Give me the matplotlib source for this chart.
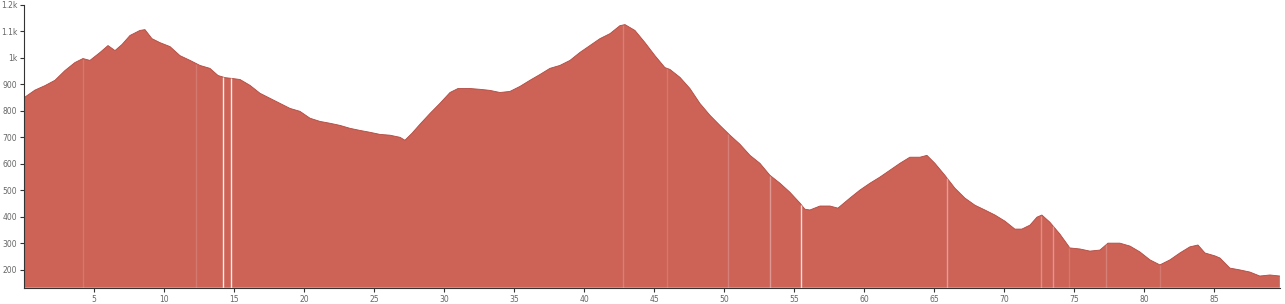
import matplotlib
matplotlib.use("Agg")
import matplotlib.pyplot as plt
import numpy as np

# distance (km) / elevation (m)
km = [0.0, 0.76, 1.48, 2.19, 2.91, 3.62, 4.19, 4.69, 5.41, 5.98, 6.48, 6.98, 7.55,
      8.26, 8.62, 9.12, 9.69, 10.41, 11.12, 11.84, 12.55, 13.26, 13.84, 14.34, 14.84,
      15.41, 16.12, 16.84, 17.55, 18.26, 18.98, 19.69, 20.41, 21.12, 21.84, 22.55,
      23.26, 23.98, 24.69, 25.41, 26.12, 26.84, 27.19, 27.69, 28.26, 28.98, 29.69,
      30.41, 30.98, 31.84, 32.55, 33.26, 33.98, 34.69, 35.41, 36.12, 36.84, 37.55,
      38.26, 38.98, 39.69, 40.41, 41.12, 41.84, 42.55, 42.91, 43.62, 44.34, 45.05,
      45.76, 46.12, 46.84, 47.55, 48.26, 48.98, 49.69, 50.41, 51.12, 51.84, 52.55,
      53.26, 53.98, 54.69, 55.41, 55.76, 56.12, 56.84, 57.55, 58.12, 58.98, 59.69,
      60.41, 61.12, 61.84, 62.55, 63.26, 63.98, 64.48, 65.05, 65.76, 66.48, 67.19,
      67.91, 68.62, 69.34, 70.05, 70.76, 71.26, 71.84, 72.34, 72.69, 73.26, 73.98,
      74.69, 75.41, 76.12, 76.84, 77.41, 78.26, 78.98, 79.69, 80.41, 81.12, 81.84,
      82.55, 83.26, 83.84, 84.34, 85.05, 85.41, 86.12, 86.84, 87.55, 88.26, 88.98, 89.69]
elev = [850, 878, 895, 915, 952, 982, 997, 990, 1020, 1046, 1027, 1050, 1084,
        1103, 1106, 1072, 1057, 1042, 1008, 990, 971, 960, 933, 925, 922,
        918, 896, 866, 847, 828, 809, 798, 772, 760, 753, 745,
        734, 726, 719, 711, 708, 700, 689, 715, 749, 790, 828,
        869, 884, 884, 881, 877, 869, 873, 892, 915, 937, 960,
        971, 990, 1020, 1046, 1072, 1091, 1121, 1125, 1103, 1057, 1008,
        963, 956, 926, 884, 828, 783, 745, 708, 674, 632, 602,
        557, 527, 493, 452, 429, 426, 441, 441, 433, 471, 501,
        527, 550, 576, 602, 625, 625, 632, 602, 557, 508, 471,
        444, 426, 407, 384, 354, 354, 369, 399, 407, 380, 335,
        283, 279, 271, 275, 301, 301, 290, 268, 238, 219, 238,
        264, 287, 294, 264, 253, 245, 207, 200, 192, 177, 181, 177]

# segment boundaries (km) and how visible each gap is
breaks = [4.2, 12.3, 14.2, 14.8, 42.8, 45.9, 50.3, 53.3, 55.5, 65.9,
          72.6, 73.5, 74.6, 77.3, 81.1]
break_alpha = [0.15, 0.15, 0.9, 0.9, 0.2, 0.15, 0.2, 0.35, 0.8, 0.4,
               0.3, 0.35, 0.15, 0.2, 0.15]

y_ticks = [200, 300, 400, 500, 600, 700, 800, 900, 1000, 1100, 1200]
y_labels = ['200', '300', '400', '500', '600', '700', '800', '900', '1k', '1.1k', '1.2k']
x_ticks = list(range(5, 90, 5))


def main():
    fig = plt.figure(figsize=(12.85, 3.04), dpi=100)
    ax = fig.add_axes([24.3 / 1285, 16.3 / 304, (1280 - 24.3) / 1285, (287.7 - 4.7) / 304])

    ymin = 133
    ax.fill_between(km, elev, ymin, facecolor='#cd6256', edgecolor='none', lw=0)
    ax.plot(km, elev, color='#b04a40', lw=0.6)

    # gaps between segments
    tops = np.interp(breaks, km, elev)
    for b, t, a in zip(breaks, tops, break_alpha):
        ax.vlines(b, ymin, t, color='white', lw=1.0, alpha=a)

    ax.set_xlim(0, 89.7)
    ax.set_ylim(ymin, 1200)
    ax.set_yticks(y_ticks)
    ax.set_yticklabels(y_labels)
    ax.set_xticks(x_ticks)
    ax.set_xticklabels([str(t) for t in x_ticks])

    for s in ['top', 'right']:
        ax.spines[s].set_visible(False)
    ax.spines['left'].set_color('#333333')
    ax.spines['bottom'].set_color('#333333')
    ax.tick_params(axis='both', labelsize=5.5, labelcolor='#666666',
                   color='#333333', length=3, width=0.8, pad=2)

    fig.savefig('out.png', dpi=100)
    return 0


if __name__ == '__main__':
    main()
